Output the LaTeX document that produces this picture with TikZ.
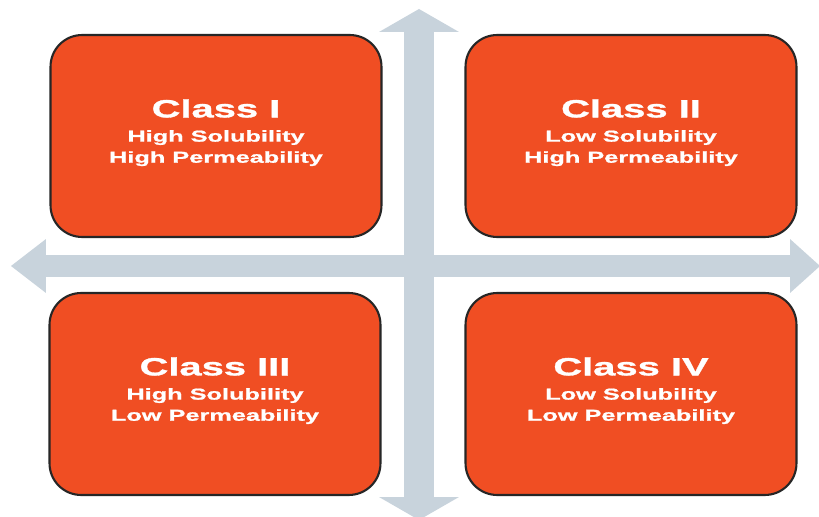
\documentclass[tikz,border=0pt]{standalone}
\usepackage{fontspec}
\setmainfont{Liberation Sans}[FakeStretch=1.6,BoldFeatures={FakeBold=1.2}]
\usetikzlibrary{positioning,arrows.meta}
\definecolor{ClassOrange}{RGB}{240,78,35}
\definecolor{AxisGrey}{RGB}{200,211,220}
\begin{document}
\begin{tikzpicture}[x=0.02cm,y=-0.02cm,
      cls/.style={draw=black!85,line width=1.2pt,fill=ClassOrange,rounded corners=18pt,
                  minimum width=6.62cm,minimum height=4.04cm,inner sep=0pt},
      lbl/.style={text=white,align=center,inner sep=0pt,font=\fontsize{9}{12}\selectfont\bfseries},
      vaxis/.style={draw=AxisGrey,line width=0.6cm,
                    {Triangle[width=1.6cm,length=0.46cm,line width=0pt]}-{Triangle[width=1.6cm,length=0.46cm,line width=0pt]}},
      haxis/.style={draw=AxisGrey,line width=0.46cm,
                    {Triangle[width=1.08cm,length=0.7cm,line width=0pt]}-{Triangle[width=1.08cm,length=0.6cm,line width=0pt]}}]
    \useasboundingbox[fill=white] (0,0) rectangle (819,517);
    % axis ends
    \coordinate (vtop) at (419,9);
    \coordinate (vbot) at (419,520);
    \coordinate (hleft) at (11,266);
    \coordinate (hright) at (820,266);
    \draw[haxis] (hleft) -- (hright);
    \draw[vaxis] (vtop) -- (vbot);
    % the four classes
    \node[cls] (c1) at (216,136) {};
    \node[cls] (c2) at (631,136) {};
    \node[cls] (c3) at (215,394) {};
    \node[cls] (c4) at (631,394) {};
    \node[lbl,below=1.3cm of c1.north] (t1) {{\fontsize{14.2}{14.2}\selectfont Class I}\\[1.8pt] High Solubility\\ High Permeability};
    \node[lbl,below=1.3cm of c2.north] (t2) {{\fontsize{14.2}{14.2}\selectfont Class II}\\[1.8pt] Low Solubility\\ High Permeability};
    \node[lbl,below=1.3cm of c3.north] (t3) {{\fontsize{14.2}{14.2}\selectfont Class III}\\[1.8pt] High Solubility\\ Low Permeability};
    \node[lbl,below=1.3cm of c4.north] (t4) {{\fontsize{14.2}{14.2}\selectfont Class IV}\\[1.8pt] Low Solubility\\ Low Permeability};
\end{tikzpicture}
\end{document}
